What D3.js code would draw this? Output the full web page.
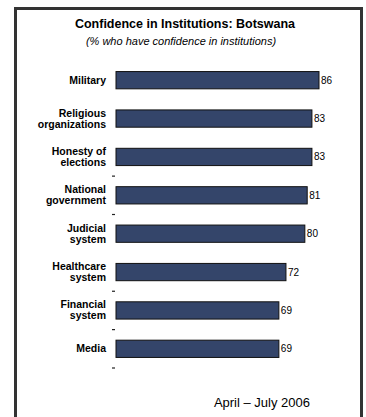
<!DOCTYPE html>
<html><head><meta charset="utf-8">
<script src="https://cdn.jsdelivr.net/npm/d3@7"></script>
<style>body{margin:0;background:#fff}svg{display:block}</style>
</head><body>
<script>
const categories = [["Military"],["Religious","organizations"],["Honesty of","elections"],["National","government"],["Judicial","system"],["Healthcare","system"],["Financial","system"],["Media"]];
const values = [86, 83, 83, 81, 80, 72, 69, 69];
const tickBoundaries = [3, 4, 6, 7, 8];
const title = "Confidence in Institutions: Botswana";
const subtitle = "(% who have confidence in institutions)";
const footer = "April \u2013 July 2006";

const W = 366, H = 417;
const svg = d3.select("body").append("svg").attr("width", W).attr("height", H);
svg.append("rect").attr("width", W).attr("height", H).attr("fill", "#fff");
svg.append("path").attr("d", "M15.5,430 V8.5 H361.5 V430").attr("fill","none").attr("stroke","#333").attr("stroke-width",3);

const font = "Arial, 'Liberation Sans', sans-serif";
svg.append("text").attr("x",185).attr("y",28).attr("text-anchor","middle")
  .attr("font-family",font).attr("font-size",12.5).attr("font-weight","bold").text(title);
svg.append("text").attr("x",181).attr("y",45).attr("text-anchor","middle")
  .attr("font-family",font).attr("font-size",11).attr("font-style","italic").text(subtitle);

const x = d3.scaleLinear().domain([0, 86]).range([116, 319]);
const y = d3.scaleBand().domain(d3.range(values.length)).range([61, 368]).paddingInner(0.55).paddingOuter(0.275);

const step = y.step();
svg.selectAll("line.tick").data(tickBoundaries).join("line").attr("class","tick")
  .attr("x1",112).attr("x2",115).attr("y1",d=>61+d*step).attr("y2",d=>61+d*step)
  .attr("stroke","#222").attr("stroke-width",1.2);

svg.selectAll("rect.bar").data(values).join("rect").attr("class","bar")
  .attr("x", x(0)).attr("y", (d,i)=>y(i)).attr("width", d=>x(d)-x(0)).attr("height", y.bandwidth())
  .attr("fill","#34456a").attr("stroke","#111").attr("stroke-width",1);

svg.selectAll("text.val").data(values).join("text").attr("class","val")
  .attr("x", d=>x(d)+2).attr("y",(d,i)=>y(i)+y.bandwidth()/2+3.5)
  .attr("font-family",font).attr("font-size",10).text(d=>d);

categories.forEach((lines,i)=>{
  const cy = y(i)+y.bandwidth()/2;
  const t = svg.append("text").attr("text-anchor","end").attr("font-family",font)
    .attr("font-size",10.5).attr("font-weight","bold");
  const lh = 11;
  lines.forEach((l,j)=>{
    t.append("tspan").attr("x",106).attr("y", cy + 3.5 + (j - (lines.length-1)/2)*lh).text(l);
  });
});

svg.append("text").attr("x",310).attr("y",407).attr("text-anchor","end")
  .attr("font-family",font).attr("font-size",13).text(footer);
</script>
</body></html>
